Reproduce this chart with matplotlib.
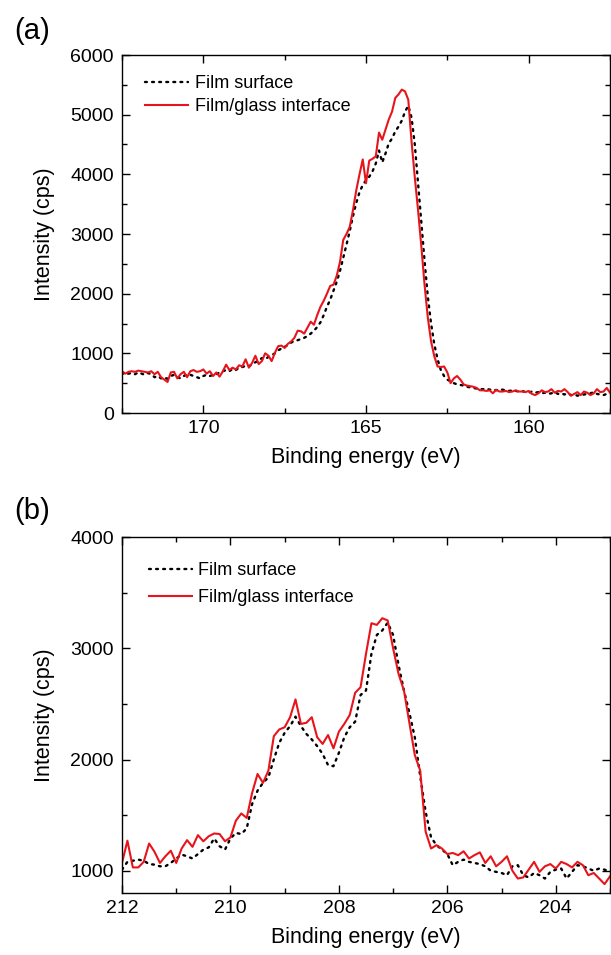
import matplotlib
matplotlib.use("Agg")
import matplotlib.pyplot as plt
import numpy as np
from matplotlib.ticker import MultipleLocator

plt.rcParams['font.family'] = ['Liberation Sans', 'DejaVu Sans']

# ---- (a) S 2p region, 172.5 -> 157.5 eV in 0.1 eV steps ----
energy_a = np.round(np.arange(172.5, 157.45, -0.1), 1)

surface_a = [
    680, 640, 660, 670, 650, 680, 660, 640, 670, 650,
    600, 620, 580, 600, 570, 620, 640, 600, 580, 620,
    650, 640, 620, 600, 580, 620, 640, 620, 640, 650,
    680, 700, 720, 700, 740, 720, 760, 770, 790, 780,
    820, 850, 880, 920, 900, 940, 970, 1000, 1050, 1080,
    1110, 1140, 1180, 1210, 1220, 1240, 1260, 1290, 1330, 1380,
    1440, 1520, 1640, 1780, 1900, 2050, 2200, 2380, 2600, 2820,
    3050, 3300, 3520, 3700, 3820, 3900, 3960, 4050, 4180, 4400,
    4200, 4350, 4520, 4600, 4720, 4800, 4900, 5050, 5150, 4950,
    4500, 3850, 3200, 2550, 1950, 1500, 1150, 900, 720, 620,
    560, 530, 500, 480, 470, 460, 440, 430, 420, 410,
    400, 400, 410, 390, 400, 380, 400, 390, 380, 370,
    380, 370, 360, 370, 350, 340, 360, 340, 350, 330,
    340, 320, 330, 350, 320, 330, 310, 330, 300, 310,
    290, 300, 310, 320, 330, 350, 320, 310, 300, 320,
    310,
]

interface_a = [
    700, 660, 690, 700, 690, 710, 700, 690, 680, 700,
    650, 690, 600, 560, 520, 680, 690, 580, 650, 690,
    600, 700, 720, 690, 700, 730, 660, 700, 620, 680,
    610, 700, 810, 720, 760, 730, 800, 780, 900, 760,
    840, 960, 820, 870, 1000, 960, 870, 1010, 1120, 1130,
    1090, 1160, 1200, 1260, 1380, 1370, 1330, 1430, 1530, 1480,
    1640, 1780, 1880, 2000, 2130, 2150, 2300, 2530, 2900, 3000,
    3120, 3400, 3730, 4000, 4250, 3850, 4230, 4260, 4300, 4700,
    4580, 4750, 4920, 5050, 5280, 5340, 5420, 5390, 5250, 4550,
    3950, 3400, 2800, 2150, 1600, 1200, 950, 780, 770, 780,
    680, 500, 580, 620, 560, 480, 460, 450, 440, 420,
    380, 380, 370, 380, 330, 390, 360, 360, 370, 350,
    360, 380, 360, 360, 350, 370, 320, 300, 330, 380,
    350, 360, 400, 340, 370, 360, 400, 350, 290, 320,
    350, 300, 360, 340, 300, 330, 400, 350, 360, 420,
    340,
]

# ---- (b) Cl 2p region, 212 -> 203 eV in 0.1 eV steps ----
energy_b = np.round(np.arange(212.0, 202.95, -0.1), 1)

surface_b = [
    1010, 1080, 1090, 1100, 1090, 1060, 1055, 1040, 1040, 1070,
    1110, 1145, 1130, 1110, 1150, 1190, 1210, 1290, 1220, 1190,
    1290, 1340, 1330, 1380, 1600, 1720, 1790, 1840, 2000, 2150,
    2240, 2300, 2385, 2300, 2230, 2180, 2120, 2050, 1950, 1940,
    2060, 2200, 2290, 2340, 2580, 2620, 2950, 3120, 3160, 3230,
    3120, 2850, 2620, 2420, 2200, 1850, 1530, 1300, 1230, 1190,
    1150, 1050, 1080, 1100, 1080, 1070, 1060, 1040, 1000, 990,
    980, 960, 1040, 1050, 960, 940, 980, 960, 930, 990,
    1010, 1020, 930, 990, 1050, 1040, 1020, 1000, 1020, 1010,
    990,
]

interface_b = [
    1070, 1270, 1030, 1030, 1080, 1245, 1170, 1070, 1130, 1180,
    1070, 1200, 1275, 1215, 1320, 1265, 1310, 1335, 1330, 1265,
    1300, 1450, 1515, 1475, 1700, 1870, 1790, 1900, 2210, 2270,
    2290, 2380, 2540, 2320, 2330, 2380, 2200, 2140, 2220, 2100,
    2250, 2320, 2400, 2600, 2650, 2950, 3225, 3210, 3270, 3250,
    3000, 2770, 2620, 2330, 2040, 1900, 1350, 1200, 1230, 1200,
    1150, 1160, 1140, 1175, 1110, 1140, 1165, 1070, 1130, 1040,
    1080, 1130, 1000, 930, 940, 1010, 1080, 990, 1040, 1060,
    1020, 1080, 1060, 1030, 1080, 1050, 960, 980, 930, 880,
    950,
]

panels = [
    dict(tag='(a)', x=energy_a, surf=surface_a, intf=interface_a,
         xlim=(172.5, 157.5), ylim=(0, 6000), xmaj=5, xmin=2.5, ymaj=1000, ymin=500),
    dict(tag='(b)', x=energy_b, surf=surface_b, intf=interface_b,
         xlim=(212, 203), ylim=(800, 4000), xmaj=2, xmin=1, ymaj=1000, ymin=500),
]

W, H = 611, 955
fig = plt.figure(figsize=(W / 100, H / 100), dpi=100)

# axes boxes in pixels: left, top, right, bottom
boxes = [(122, 55, 610, 413), (122, 537, 610, 893)]
tag_y = [31, 511]
leg_anchor = [(0.047, 0.944), (0.055, 0.93)]
leg_spacing = [0.35, 0.55]

red = '#e8141c'

for p, (l, t, r, b), ty, anc, sp in zip(panels, boxes, tag_y, leg_anchor, leg_spacing):
    ax = fig.add_axes([l / W, 1 - b / H, (r - l) / W, (b - t) / H])
    ax.plot(p['x'], p['surf'], color='black', lw=1.7, linestyle=(0, (0.8, 2.2)),
            dash_capstyle='round', label='Film surface')
    ax.plot(p['x'], p['intf'], color=red, lw=1.5, label='Film/glass interface')
    ax.set_xlim(*p['xlim'])
    ax.set_ylim(*p['ylim'])
    ax.xaxis.set_major_locator(MultipleLocator(p['xmaj']))
    ax.xaxis.set_minor_locator(MultipleLocator(p['xmin']))
    ax.yaxis.set_major_locator(MultipleLocator(p['ymaj']))
    ax.yaxis.set_minor_locator(MultipleLocator(p['ymin']))
    ax.tick_params(which='both', direction='in', top=True, right=True, width=1.0)
    ax.tick_params(which='major', length=6)
    ax.tick_params(which='minor', length=3.5)
    ax.tick_params(axis='x', labelsize=14, pad=5)
    ax.tick_params(axis='y', labelsize=14, pad=6)
    for s in ax.spines.values():
        s.set_linewidth(1.0)
    ax.set_xlabel('Binding energy (eV)', fontsize=15.5)
    ax.set_ylabel('Intensity (cps)', fontsize=15.5)
    ax.xaxis.set_label_coords(0.5, -0.095)
    ax.yaxis.set_label_coords(-0.137, 0.5)
    ax.legend(loc='upper left', bbox_to_anchor=anc, frameon=False, fontsize=13,
              handlelength=2.4, handletextpad=0.35, labelspacing=sp, borderaxespad=0,
              borderpad=0)
    fig.text(32 / W, 1 - ty / H, p['tag'], fontsize=21, ha='center', va='center')

fig.savefig('out.png', dpi=100)
